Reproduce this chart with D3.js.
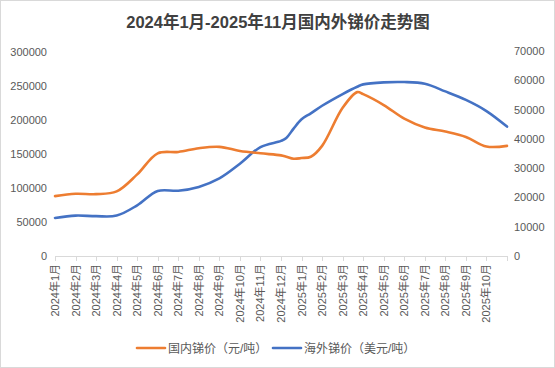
<!DOCTYPE html>
<html><head><meta charset="utf-8">
<script src="https://cdn.jsdelivr.net/npm/d3@7/dist/d3.min.js"></script>
<style>body{margin:0;background:#fff}svg{display:block}text{font-family:"Liberation Sans","Noto Sans CJK SC",sans-serif}</style>
</head><body><div id="c"></div>
<script>
const title = "2024年1月-2025年11月国内外锑价走势图";
const dates = ["2024-01-01","2024-02-01","2024-03-01","2024-04-01","2024-05-01","2024-06-01","2024-07-01","2024-08-01","2024-09-01","2024-10-01","2024-11-01","2024-12-01","2024-12-09","2024-12-20","2025-01-01","2025-01-15","2025-02-01","2025-03-01","2025-03-23","2025-04-01","2025-05-01","2025-06-01","2025-07-01","2025-08-01","2025-09-01","2025-10-01","2025-11-01"];
const domestic = [88000,91500,91000,95000,120000,151000,153000,158500,160500,154500,151000,148000,146000,143000,144000,146000,162000,218000,241000,238000,222000,202000,189000,183000,175000,161000,162000];
const overseas = [13000,13800,13600,13800,17300,22200,22300,23600,26500,31500,37200,39300,40300,43500,46700,48700,51300,55300,57800,58600,59300,59400,58800,56200,53300,49500,44200];
const monthLabels = ["2024年1月","2024年2月","2024年3月","2024年4月","2024年5月","2024年6月","2024年7月","2024年8月","2024年9月","2024年10月","2024年11月","2024年12月","2025年1月","2025年2月","2025年3月","2025年4月","2025年5月","2025年6月","2025年7月","2025年8月","2025年9月","2025年10月"];
const leftTicks = [0,50000,100000,150000,200000,250000,300000];
const rightTicks = [0,10000,20000,30000,40000,50000,60000,70000];
const seriesNames = ["国内锑价（元/吨）","海外锑价（美元/吨）"];

const W=555,H=368;
const svg=d3.select("#c").append("svg").attr("width",W).attr("height",H);
svg.append("rect").attr("x",0.5).attr("y",0.5).attr("width",W-1).attr("height",H-1).attr("fill","#fff").attr("stroke","#d9d9d9");

function monthIndex(s){const [y,m,d]=s.split("-").map(Number);const dim=new Date(y,m,0).getDate();return (y-2024)*12+(m-1)+(d-1)/dim;}
const xs=dates.map(monthIndex);
const x=d3.scaleLinear().domain([0,22]).range([55,507]);
const yL=d3.scaleLinear().domain([0,300000]).range([256,52]);
const yR=d3.scaleLinear().domain([0,70000]).range([256,51]);

svg.append("text").attr("x",278).attr("y",28).attr("text-anchor","middle").attr("font-size",16.5).attr("font-weight","bold").attr("fill","#404040").text(title);

// left axis labels
svg.append("g").selectAll("text").data(leftTicks).join("text")
 .attr("x",47).attr("y",d=>yL(d)+4).attr("text-anchor","end").attr("font-size",11).attr("fill","#595959").text(d=>d);
svg.append("g").selectAll("text").data(rightTicks).join("text")
 .attr("x",514).attr("y",d=>yR(d)+4).attr("text-anchor","start").attr("font-size",11).attr("fill","#595959").text(d=>d);

// x axis
svg.append("line").attr("x1",x(0)).attr("x2",x(22)).attr("y1",256.5).attr("y2",256.5).attr("stroke","#d9d9d9");
svg.append("g").selectAll("line").data(d3.range(23)).join("line")
 .attr("x1",d=>Math.round(x(d))+0.5).attr("x2",d=>Math.round(x(d))+0.5).attr("y1",256).attr("y2",261).attr("stroke","#d9d9d9");
svg.append("g").selectAll("text").data(monthLabels).join("text")
 .attr("transform",(d,i)=>`translate(${x(i)+4},264) rotate(-90)`).attr("text-anchor","end").attr("font-size",11).attr("fill","#595959").text(d=>d);

const lineL=d3.line().x((d,i)=>x(xs[i])).y(d=>yL(d)).curve(d3.curveCatmullRom.alpha(0.5));
const lineR=d3.line().x((d,i)=>x(xs[i])).y(d=>yR(d)).curve(d3.curveCatmullRom.alpha(0.5));
svg.append("path").attr("d",lineR(overseas)).attr("fill","none").attr("stroke","#4472C4").attr("stroke-width",2.6).attr("stroke-linecap","round");
svg.append("path").attr("d",lineL(domestic)).attr("fill","none").attr("stroke","#ED7D31").attr("stroke-width",2.6).attr("stroke-linecap","round");

// legend
const lg=[{c:"#ED7D31",x:137,t:seriesNames[0]},{c:"#4472C4",x:273,t:seriesNames[1]}];
lg.forEach(l=>{
 svg.append("line").attr("x1",l.x).attr("x2",l.x+28).attr("y1",348).attr("y2",348).attr("stroke",l.c).attr("stroke-width",2.6).attr("stroke-linecap","round");
 svg.append("text").attr("x",l.x+31).attr("y",352.5).attr("font-size",12).attr("fill","#595959").text(l.t);
});
</script></body></html>
